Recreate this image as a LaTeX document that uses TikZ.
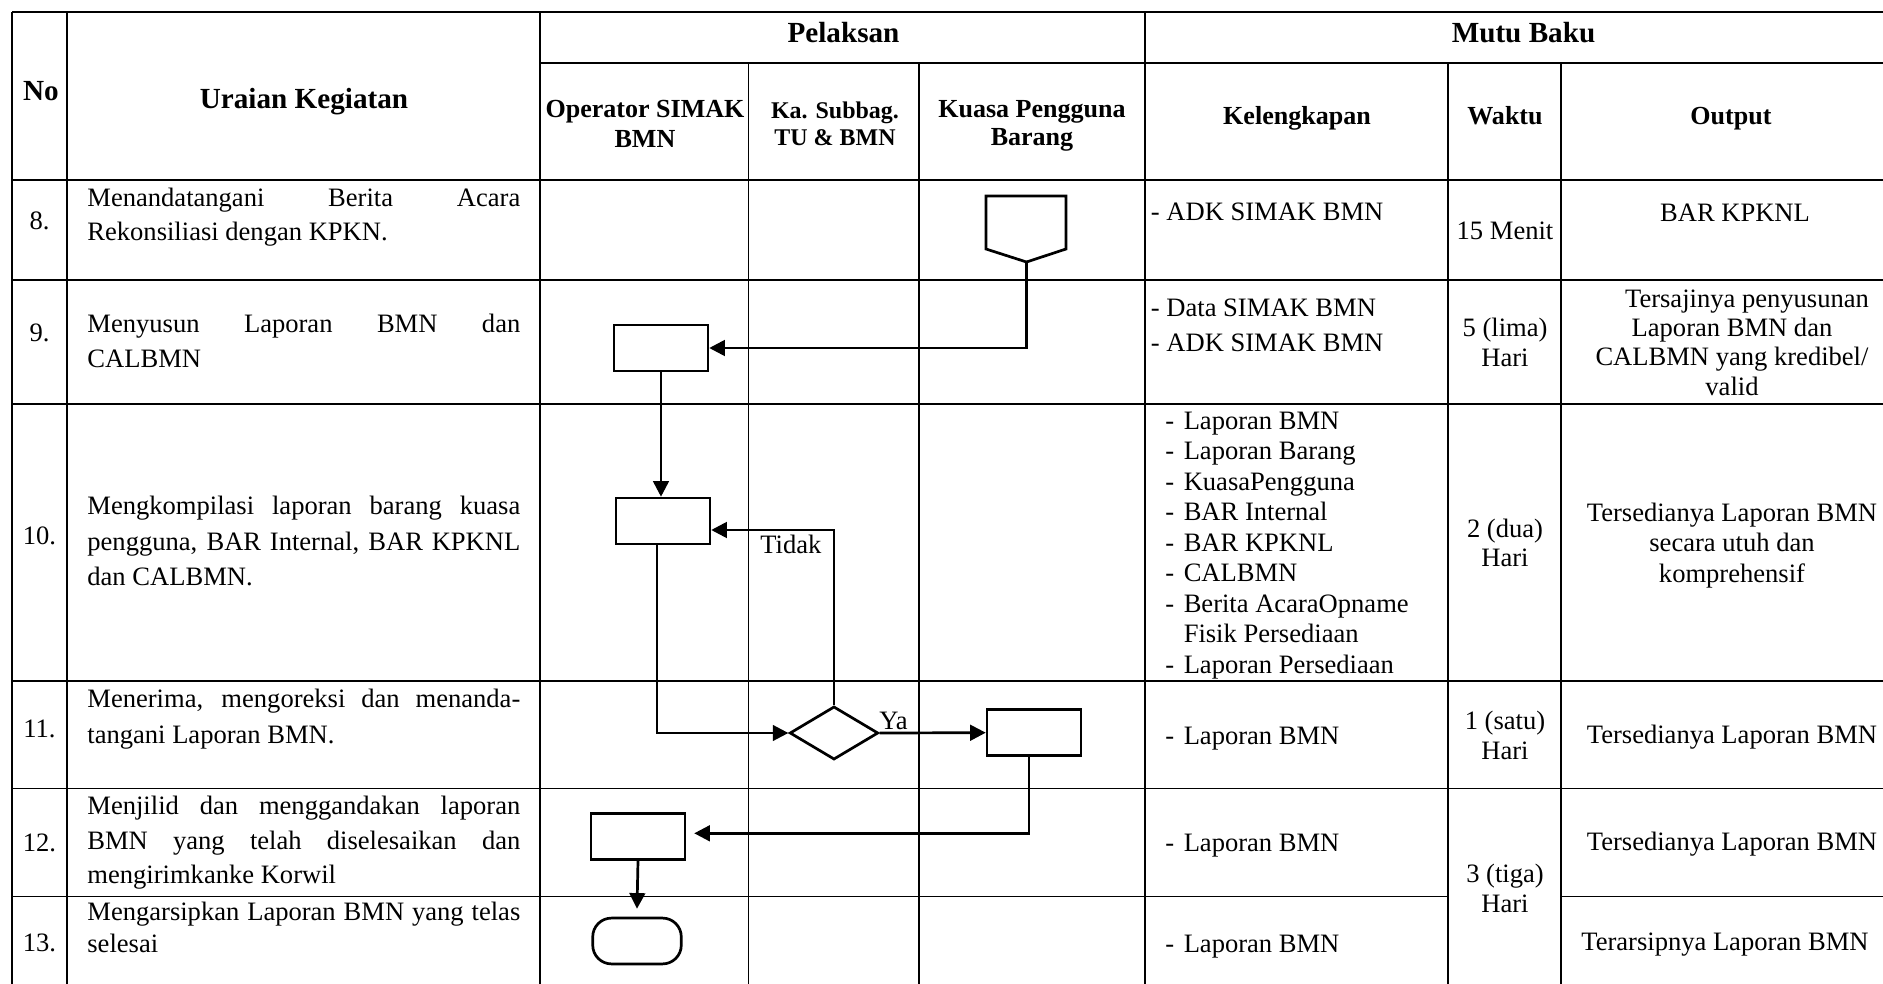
\documentclass[tikz,border=0pt]{standalone}
\usepackage{fontspec}
\setmainfont{Liberation Serif}
\usepackage{tikz}
\usetikzlibrary{arrows.meta,calc,shapes.geometric}
\newcommand{\jline}[1]{\makebox[207.8pt][s]{#1}}
\newcommand{\kdash}{\makebox[8.8pt][l]{-}}
\tikzset{
  grid/.style ={draw=black, line width=0.7pt},
  flow/.style ={draw=black, line width=1.3pt},
  ptr/.style  ={flow, -{Triangle[length=7.5pt,width=7.5pt]}},
  proc/.style ={flow, rectangle, minimum width=45pt, minimum height=22pt, inner sep=0pt},
  dec/.style  ={flow, diamond, minimum width=42.5pt, minimum height=25.5pt, inner sep=0pt},
  term/.style ={flow, rectangle, rounded corners=9pt, minimum width=42.5pt, minimum height=22pt, inner sep=0pt},
  txt/.style  ={font=\fontsize{12.75}{15}\selectfont, inner sep=0pt, anchor=base west},
  txtc/.style ={txt, anchor=base},
  hd/.style   ={font=\fontsize{14}{16}\selectfont\bfseries, inner sep=0pt, anchor=base},
  shd/.style  ={font=\fontsize{12.5}{15}\selectfont\bfseries, inner sep=0pt, anchor=base},
  shdk/.style ={font=\fontsize{11.5}{14}\selectfont\bfseries, inner sep=0pt, anchor=base},
}

\begin{document}
\begin{tikzpicture}[x=0.48pt,y=-0.48pt]
  \useasboundingbox (0,0) rectangle (1883,984);
  % table rules
  \draw[grid] (12,12) -- (1883,12);
  \draw[grid] (540,63) -- (1883,63);
  \draw[grid] (12,180) -- (1883,180);
  \draw[grid] (12,280) -- (1883,280);
  \draw[grid] (12,404) -- (1883,404);
  \draw[grid] (12,681) -- (1883,681);
  \draw[grid] (12,788.5) -- (1883,788.5);
  \draw[grid] (12,896.5) -- (1448,896.5);
  \draw[grid] (1561,896.5) -- (1883,896.5);
  \draw[grid] (12,12) -- (12,984);
  \draw[grid] (67,12) -- (67,984);
  \draw[grid] (540,12) -- (540,984);
  \draw[grid] (1145,12) -- (1145,984);
  \draw[grid] (748.5,63) -- (748.5,984);
  \draw[grid] (919,63) -- (919,984);
  \draw[grid] (1448,63) -- (1448,984);
  \draw[grid] (1561,63) -- (1561,984);

  % header
  \node[hd] (no) at (41,101) {No};
  \node[hd] (uraian) at (304,109) {Uraian Kegiatan};
  \node[hd] (pelaksan) at (843.5,43) {Pelaksan};
  \node[hd] (mutu) at (1523.5,43) {Mutu Baku};
  \node[shd] (op1) at (645,118) {Operator SIMAK};
  \node[shd] (op2) at (645,148) {BMN};
  \node[shdk] (ka1) at (835,119) {Ka. Subbag.};
  \node[shdk] (ka2) at (835,146) {TU \& BMN};
  \node[shd] (kpb1) at (1032,118) {Kuasa Pengguna};
  \node[shd] (kpb2) at (1032,146) {Barang};
  \node[shd] (kel) at (1297,125) {Kelengkapan};
  \node[shd] (waktu) at (1505,125) {Waktu};
  \node[shd] (output) at (1731,125) {Output};

  % nomor
  \node[txtc] (n8) at (39.5,229) {8.};
  \node[txtc] (n9) at (39.5,342) {9.};
  \node[txtc] (n10) at (39.5,544) {10.};
  \node[txtc] (n11) at (39.5,737) {11.};
  \node[txtc] (n12) at (39.5,851) {12.};
  \node[txtc] (n13) at (39.5,951) {13.};

  % uraian kegiatan
  \node[txt] (u8a) at (87,207) {\jline{Menandatangani Berita Acara}};
  \node[txt] (u8b) at (87,241) {Rekonsiliasi dengan KPKN.};
  \node[txt] (u9a) at (87,333) {\jline{Menyusun Laporan BMN dan}};
  \node[txt] (u9b) at (87,367) {CALBMN};
  \node[txt] (u10a) at (87,514) {\jline{Mengkompilasi laporan barang kuasa}};
  \node[txt] (u10b) at (87,550) {\jline{pengguna, BAR Internal, BAR KPKNL}};
  \node[txt] (u10c) at (87,585) {dan CALBMN.};
  \node[txt] (u11a) at (87,707) {\jline{Menerima, mengoreksi dan menanda-}};
  \node[txt] (u11b) at (87,743) {tangani Laporan BMN.};
  \node[txt] (u12a) at (87,814.5) {\jline{Menjilid dan menggandakan laporan}};
  \node[txt] (u12b) at (87,849) {\jline{BMN yang telah diselesaikan dan}};
  \node[txt] (u12c) at (87,883) {mengirimkanke Korwil};
  \node[txt] (u13a) at (87,920) {\jline{Mengarsipkan Laporan BMN yang telas}};
  \node[txt] (u13b) at (87,952) {selesai};

  % kelengkapan
  \node[txt] (k8a) at (1150.5,221) {- ADK SIMAK BMN};
  \node[txt] (k9a) at (1150.5,316) {- Data SIMAK BMN};
  \node[txt] (k9b) at (1150.5,351.5) {- ADK SIMAK BMN};
  \node[txt] (k10a) at (1165,429.3) {\kdash Laporan BMN};
  \node[txt] (k10b) at (1165,459.8) {\kdash Laporan Barang};
  \node[txt] (k10c) at (1165,490.3) {\kdash KuasaPengguna};
  \node[txt] (k10d) at (1165,520.8) {\kdash BAR Internal};
  \node[txt] (k10e) at (1165,551.3) {\kdash BAR KPKNL};
  \node[txt] (k10f) at (1165,581.8) {\kdash CALBMN};
  \node[txt] (k10g) at (1165,612.3) {\kdash Berita AcaraOpname};
  \node[txt] (k10h) at (1165,642.8) {\hspace*{8.8pt}Fisik Persediaan};
  \node[txt] (k10i) at (1165,673.3) {\kdash Laporan Persediaan};
  \node[txt] (k11) at (1165,744.5) {\kdash Laporan BMN};
  \node[txt] (k12) at (1165,851) {\kdash Laporan BMN};
  \node[txt] (k13) at (1165,952) {\kdash Laporan BMN};

  % waktu
  \node[txtc] (w8) at (1505,239) {15 Menit};
  \node[txtc] (w9a) at (1505,336.5) {5 (lima)};
  \node[txtc] (w9b) at (1505,366.5) {Hari};
  \node[txtc] (w10a) at (1505,537) {2 (dua)};
  \node[txtc] (w10b) at (1505,566) {Hari};
  \node[txtc] (w11a) at (1505,729.5) {1 (satu)};
  \node[txtc] (w11b) at (1505,759.5) {Hari};
  \node[txtc] (w12a) at (1505,882) {3 (tiga)};
  \node[txtc] (w12b) at (1505,912) {Hari};

  % output
  \node[txtc] (o8) at (1735,222) {BAR KPKNL};
  \node[txtc] (o9a) at (1747,308) {Tersajinya penyusunan};
  \node[txtc] (o9b) at (1732,337) {Laporan BMN dan};
  \node[txtc] (o9c) at (1732,366) {CALBMN yang kredibel/};
  \node[txtc] (o9d) at (1732,395) {valid};
  \node[txtc] (o10a) at (1732,521) {Tersedianya Laporan BMN};
  \node[txtc] (o10b) at (1732,551.5) {secara utuh dan};
  \node[txtc] (o10c) at (1732,582) {komprehensif};
  \node[txtc] (o11) at (1732,743.5) {Tersedianya Laporan BMN};
  \node[txtc] (o12) at (1732,850) {Tersedianya Laporan BMN};
  \node[txtc] (o13) at (1725,950.5) {Terarsipnya Laporan BMN};

  % flow
  \coordinate (k8) at (1026.5,262);
  \draw[flow] (986,196) -- (1066,196) -- (1066,249) -- (k8) -- (986,249) -- cycle;
  \node[proc] (b9) at (661,348) {};
  \node[proc] (b10) at (663,521) {};
  \node[dec] (d11) at (834,733) {};
  \node[proc] (b11) at (1034,732.7) {};
  \node[proc] (b12) at (638,836.3) {};
  \node[term] (t13) at (637,941) {};
  \draw[ptr] (k8) |- (b9.east);
  \draw[ptr] (b9.south) -- (b9.south |- b10.north);
  \draw[ptr] ($(b10.south)+(-6,0)$) |- (d11.west);
  \draw[ptr] (d11.north) |- ($(b10.east)+(0,9)$);
  \draw[ptr] (d11.east) -- (b11.west);
  \draw[ptr] ($(b11.south)+(-5,0)$) |- ($(b12.east)+(8,-3)$);
  \draw[ptr] (b12.south) -- ($(t13.north)+(0,-8)$);
  \node[txt] (tidak) at (760,553) {Tidak};
  \node[txt] (ya) at (879,729) {Ya};
\end{tikzpicture}
\end{document}
